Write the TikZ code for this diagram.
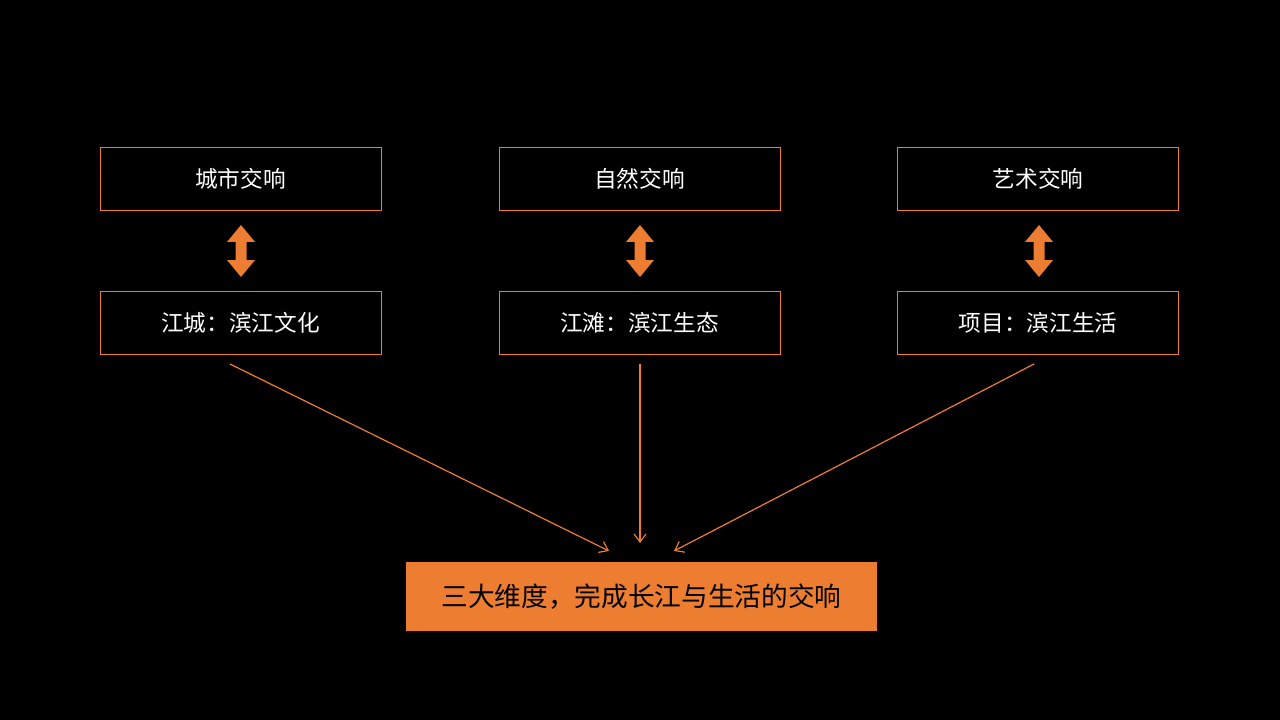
\documentclass[tikz,border=0pt]{standalone}
\usepackage{fontspec}
\newfontfamily\cjk{Noto Sans CJK SC}
\usetikzlibrary{arrows.meta}
\definecolor{org}{HTML}{ED7D31}
\begin{document}
\begin{tikzpicture}[x=0.75pt,y=-0.75pt,
  box/.style={draw=org,line width=0.75pt,fill=black,text=white,minimum width=281*0.75pt,minimum height=63*0.75pt,inner sep=0pt,font=\cjk\fontsize{17}{20}\selectfont},
  link/.style={draw=org,line width=0.9pt,-{Straight Barb[length=6pt,width=9pt]}},
  dbl/.style={fill=org,draw=none}]
\fill[black] (0,0) rectangle (1280,720);
\useasboundingbox (0,0) rectangle (1280,720);
\node[box] (t1) at (240.5,179) {城市交响};
\node[box] (t2) at (639.5,179) {自然交响};
\node[box] (t3) at (1038,179) {艺术交响};
\node[box] (b1) at (240.5,322.5) {江城：滨江文化};
\node[box] (b2) at (639.5,322.5) {江滩：滨江生态};
\node[box] (b3) at (1038,322.5) {项目：滨江生活};
\node[fill=org,text=black,minimum width=471*0.75pt,minimum height=69*0.75pt,inner sep=0pt,font=\cjk\fontsize{20}{24}\selectfont] (res) at (641.5,596.5) {三大维度，完成长江与生活的交响};
\foreach \cx in {241,640,1039}{
  \fill[dbl] (\cx,225) -- (\cx+14,242) -- (\cx+5.5,242) -- (\cx+5.5,260) -- (\cx+14,260) -- (\cx,277) -- (\cx-14,260) -- (\cx-5.5,260) -- (\cx-5.5,242) -- (\cx-14,242) -- cycle;
}
\coordinate (s1) at (230,364);
\coordinate (e1) at (609,551);
\coordinate (s2) at (640,364);
\coordinate (e2) at (640,543);
\coordinate (s3) at (1034,364);
\coordinate (e3) at (674,551);
\draw[link] (s1) -- (e1);
\draw[link] (s2) -- (e2);
\draw[link] (s3) -- (e3);
\end{tikzpicture}
\end{document}
